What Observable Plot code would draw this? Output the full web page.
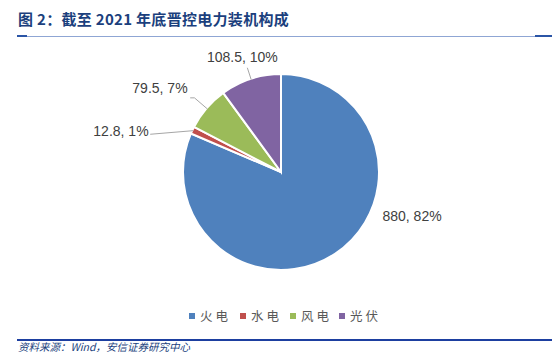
<!DOCTYPE html>
<html><head><meta charset="utf-8">
<script src="https://cdn.jsdelivr.net/npm/d3@7"></script>
<script src="https://cdn.jsdelivr.net/npm/@observablehq/plot@0.6"></script>
<style>
html,body{margin:0;padding:0;background:#fff;width:552px;height:353px;overflow:hidden;position:relative;font-family:"Liberation Sans",Arial,sans-serif;}
#title{position:absolute;left:18px;top:8px;font-size:15px;font-weight:bold;color:#1b3f7d;letter-spacing:0.3px;font-family:"Noto Sans CJK SC","Liberation Sans",sans-serif;white-space:nowrap;}
.rule{position:absolute;}
#chart{position:absolute;left:0;top:40px;}
.li{position:absolute;top:307px;font-size:12.5px;color:#595959;letter-spacing:3px;font-family:"Noto Sans CJK SC",sans-serif;line-height:18px;white-space:nowrap;}
.sw{position:absolute;width:6px;height:6px;top:313px;}
#source{position:absolute;left:18px;top:341px;font-size:10.5px;line-height:11px;font-style:italic;color:#1b3f7d;white-space:nowrap;font-family:"Noto Sans CJK SC","Liberation Sans",sans-serif;}
</style></head>
<body>
<div id="title">图 2：截至 2021 年底晋控电力装机构成</div>
<div class="rule" style="left:17px;top:36px;width:535px;height:1px;background:#8fa6d4"></div>
<div class="rule" style="left:17px;top:35px;width:10px;height:2px;background:#2b55a6"></div>
<div class="rule" style="left:535px;top:35px;width:17px;height:2px;background:#2b55a6"></div>
<div id="chart"></div>
<div class="rule" style="left:17px;top:339px;width:535px;height:2px;background:#1d3fa0"></div>
<div id="source">资料来源：Wind，安信证券研究中心</div>
<script>
// data
const categories = ["火电", "水电", "风电", "光伏"];
const values = [880, 12.8, 79.5, 108.5];
const percents = ["82%", "1%", "7%", "10%"];
const colors = ["#4f81bd", "#c0504d", "#9bbb59", "#8064a2"];

// label layout (angle offset from slice middle in degrees, radius in pie radii, anchor)
const labelAngleOffset = [-33, -8, 1.2, -0.7];
const labelRadius = [1.124, 1.42, 1.286, 1.24];
const labelAnchor = ["start", "end", "end", "middle"];
const leaderKinds = ["none", "straight", "elbow", "radial"];

const R = 98; // px per unit radius
const W = 552, H = 260;
const cx = 281, cy = 132;

const arcs = d3.pie().sort(null).startAngle(0).endAngle(2 * Math.PI)(values);
const slices = arcs.map((a, i) => ({
  cat: categories[i], value: values[i], color: colors[i],
  start: a.startAngle, end: a.endAngle, mid: (a.startAngle + a.endAngle) / 2,
  label: `${values[i]}, ${percents[i]}`
}));

const polar = (ang, r) => ({x: r * Math.sin(ang), y: r * Math.cos(ang)});

const labels = slices.map((s, i) => {
  const p = polar(s.mid + labelAngleOffset[i] * Math.PI / 180, labelRadius[i]);
  return {...p, text: s.label, anchor: labelAnchor[i]};
});

const leaders = [];
slices.forEach((s, i) => {
  const k = leaderKinds[i];
  if (k === "none") return;
  const a = polar(s.mid, 1.0);
  const L = labels[i];
  let pts;
  if (k === "straight") pts = [a, {x: L.x + 2 / R, y: L.y - 3 / R}];
  else if (k === "elbow") {
    const e = polar(s.mid, 1.17);
    pts = [a, e, {x: L.x + 3 / R, y: e.y}];
  } else pts = [a, polar(s.mid, 1.12)];
  pts.forEach(p => leaders.push({...p, id: i}));
});

// custom pie render via Plot scales
function pieMark(index, scales, values, dimensions) {
  const x0 = scales.x(0), y0 = scales.y(0);
  const rad = scales.x(1) - scales.x(0);
  const arc = d3.arc().innerRadius(0).outerRadius(rad);
  const g = d3.create("svg:g").attr("transform", `translate(${x0},${y0})`);
  g.selectAll("path").data(slices).join("path")
    .attr("d", d => arc({startAngle: d.start, endAngle: d.end}))
    .attr("fill", d => d.color)
    .attr("stroke", "#fff").attr("stroke-width", 2).attr("stroke-linejoin", "miter");
  return g.node();
}

const textOpts = {x: "x", y: "y", text: "text", fontSize: 14, fill: "#404040", fontFamily: "Liberation Sans, Arial, sans-serif"};

const plot = Plot.plot({
  width: W, height: H,
  margin: 0,
  x: {domain: [-cx / R, (W - cx) / R], range: [0, W], axis: null},
  y: {domain: [-(H - cy) / R, cy / R], range: [H, 0], axis: null},
  marks: [
    pieMark,
    Plot.line(leaders, {x: "x", y: "y", z: "id", stroke: "#a6a6a6", strokeWidth: 1, curve: "linear"}),
    Plot.text(labels.filter(d => d.anchor === "start"), {...textOpts, textAnchor: "start"}),
    Plot.text(labels.filter(d => d.anchor === "end"), {...textOpts, textAnchor: "end"}),
    Plot.text(labels.filter(d => d.anchor === "middle"), {...textOpts, textAnchor: "middle"})
  ]
});
document.getElementById("chart").appendChild(plot);

// legend
const legendX = [189, 240, 290, 339];
categories.forEach((c, i) => {
  const sw = document.createElement("div");
  sw.className = "sw";
  sw.style.left = legendX[i] + "px";
  sw.style.background = colors[i];
  document.body.appendChild(sw);
  const t = document.createElement("div");
  t.className = "li";
  t.style.left = (legendX[i] + 11) + "px";
  t.textContent = c;
  document.body.appendChild(t);
});
</script>
</body></html>
